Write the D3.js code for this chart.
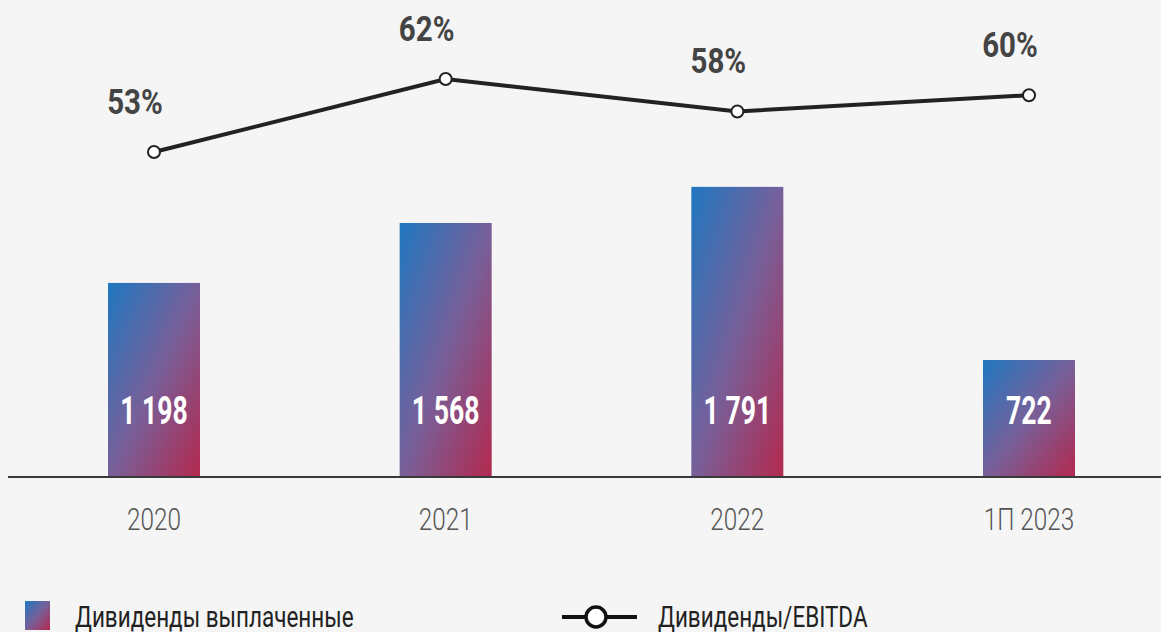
<!DOCTYPE html>
<html>
<head>
<meta charset="utf-8">
<script src="https://cdn.jsdelivr.net/npm/d3@7"></script>
<style>
  html, body { margin: 0; padding: 0; background: #f5f5f5; }
  svg { display: block; }
</style>
</head>
<body>
<svg id="chart" width="1161" height="632"></svg>
<script>
"use strict";

// данные
const categories = ["2020", "2021", "2022", "1П 2023"];
const dividends = [1198, 1568, 1791, 722];
const dividendLabels = ["1 198", "1 568", "1 791", "722"];
const ratio = [53, 62, 58, 60];
const ratioLabels = ["53%", "62%", "58%", "60%"];

const svg = d3.select("#chart");
const width = 1161, height = 632;
const baseY = 477;
const barW = 92;
const font = "Roboto, 'DejaVu Sans', sans-serif";

svg.append("rect").attr("width", width).attr("height", height).attr("fill", "#f5f5f5");

// градиент столбцов
const defs = svg.append("defs");
const grad = defs.append("linearGradient")
    .attr("id", "barGrad")
    .attr("x1", 0).attr("y1", 0).attr("x2", 1).attr("y2", 1);
grad.append("stop").attr("offset", "0%").attr("stop-color", "#1f77c0");
grad.append("stop").attr("offset", "50%").attr("stop-color", "#77609a");
grad.append("stop").attr("offset", "100%").attr("stop-color", "#b3294e");

const x = d3.scalePoint().domain(categories).range([154, 1029]);
const y = d3.scaleLinear().domain([0, 2000]).range([baseY, 153]);
const yLine = d3.scaleLinear().domain([40, 70]).range([257.5, 14.1]);

/** сжатый текст: шрифт Roboto, сжатый по горизонтали */
const narrowText = (sel, sx) => sel
    .attr("transform", function () {
        const t = d3.select(this);
        return "translate(" + t.attr("data-x") + "," + t.attr("data-y") + ") scale(" + sx + ",1)";
    })
    .style("font-family", font);

// столбцы
svg.selectAll(".bar").data(dividends).enter()
    .append("rect")
    .attr("class", "bar")
    .attr("x", (d, i) => x(categories[i]) - barW / 2)
    .attr("y", d => y(d))
    .attr("width", barW)
    .attr("height", d => baseY - y(d))
    .attr("fill", "url(#barGrad)");

// подписи значений столбцов
svg.selectAll(".barText").data(dividendLabels).enter()
    .append("text")
    .attr("class", "barText")
    .attr("text-anchor", "middle")
    .attr("data-x", (d, i) => x(categories[i]))
    .attr("data-y", baseY - 53)
    .style("font-weight", "bold")
    .style("font-size", "38px")
    .style("fill", "#fff")
    .text(d => d)
    .call(narrowText, 0.7);

// ось
svg.append("line")
    .attr("x1", 8).attr("x2", width)
    .attr("y1", baseY).attr("y2", baseY)
    .attr("stroke", "#3a3a3a").attr("stroke-width", 2);

svg.selectAll(".tick").data(categories).enter()
    .append("text")
    .attr("class", "tick")
    .attr("text-anchor", "middle")
    .attr("data-x", d => x(d))
    .attr("data-y", 530)
    .style("font-weight", 300)
    .style("font-size", "32px")
    .style("fill", "#555")
    .text(d => d)
    .call(narrowText, 0.76);

// линия Дивиденды/EBITDA
const cx = (d, i) => x(categories[i]);
const line = d3.line().x(cx).y(d => yLine(d));
svg.append("path")
    .datum(ratio)
    .attr("d", line)
    .attr("fill", "none")
    .attr("stroke", "#222")
    .attr("stroke-width", 4);

svg.selectAll(".dot").data(ratio).enter()
    .append("circle")
    .attr("class", "dot")
    .attr("cx", cx)
    .attr("cy", d => yLine(d))
    .attr("r", 6)
    .attr("fill", "#fff")
    .attr("stroke", "#222")
    .attr("stroke-width", 2);

svg.selectAll(".pct").data(ratio).enter()
    .append("text")
    .attr("class", "pct")
    .attr("text-anchor", "middle")
    .attr("data-x", (d, i) => cx(d, i) - 19)
    .attr("data-y", d => yLine(d) - 38)
    .style("font-weight", "bold")
    .style("font-size", "36px")
    .style("fill", "#444")
    .text((d, i) => ratioLabels[i])
    .call(narrowText, 0.82);

// легенда
svg.append("rect")
    .attr("x", 25).attr("y", 601).attr("width", 25).attr("height", 29)
    .attr("fill", "url(#barGrad)");
svg.append("text")
    .attr("data-x", 75).attr("data-y", 627)
    .style("font-size", "29px")
    .style("fill", "#222")
    .text("Дивиденды выплаченные")
    .call(narrowText, 0.775);

svg.append("line")
    .attr("x1", 562).attr("x2", 637).attr("y1", 617).attr("y2", 617)
    .attr("stroke", "#111").attr("stroke-width", 4);
svg.append("circle")
    .attr("cx", 596).attr("cy", 617).attr("r", 10)
    .attr("fill", "#fff").attr("stroke", "#111").attr("stroke-width", 3.5);
svg.append("text")
    .attr("data-x", 658).attr("data-y", 627)
    .style("font-size", "29px")
    .style("fill", "#222")
    .text("Дивиденды/EBITDA")
    .call(narrowText, 0.775);
</script>
</body>
</html>
